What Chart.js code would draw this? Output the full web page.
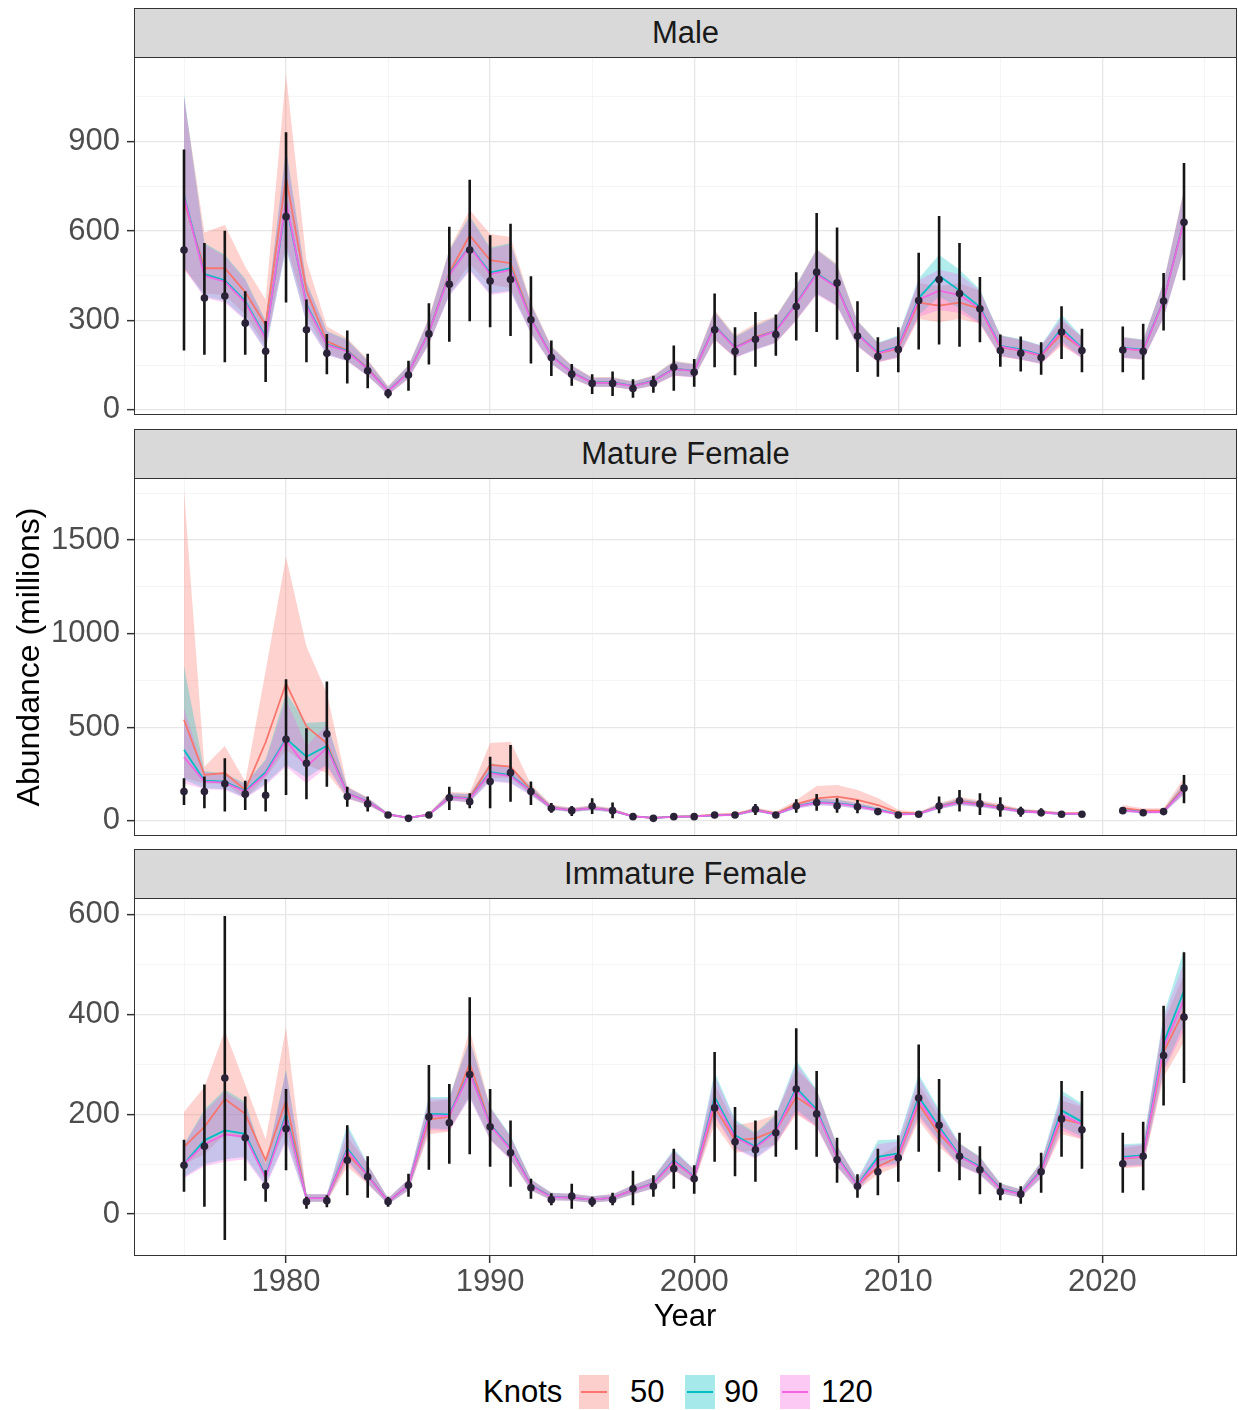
<!DOCTYPE html>
<html><head><meta charset="utf-8">
<script src="https://cdn.jsdelivr.net/npm/chart.js@4.4.1/dist/chart.umd.min.js"></script>
<style>
body{margin:0;width:1238px;height:1410px;background:#fff;position:relative;overflow:hidden;font-family:"Liberation Sans",Arial,sans-serif;}
.strip{position:absolute;left:134px;width:1103px;background:#d9d9d9;border:1.5px solid #333;box-sizing:border-box;display:flex;align-items:center;justify-content:center;font-size:31px;color:#1a1a1a;z-index:3;}
.frame{position:absolute;left:134px;width:1103px;border:1.5px solid #333;box-sizing:border-box;pointer-events:none;z-index:4;}
canvas{position:absolute;left:0;z-index:2;}
.txt{position:absolute;white-space:nowrap;color:#000;z-index:5;}
.key{position:absolute;width:30px;height:34px;top:1375px;z-index:5;}
.key i{position:absolute;left:2px;right:2px;top:16px;height:2px;display:block;}
</style></head>
<body>
<div class="strip" style="top:8px;height:50px;">Male</div>
<div class="frame" style="top:57px;height:358px;"></div>
<div class="strip" style="top:429px;height:50px;">Mature Female</div>
<div class="frame" style="top:478px;height:358px;"></div>
<div class="strip" style="top:849px;height:50px;">Immature Female</div>
<div class="frame" style="top:898px;height:358px;"></div>
<canvas id="c1"></canvas><canvas id="c2"></canvas><canvas id="c3"></canvas>
<div class="txt" style="left:-172px;top:637px;width:400px;height:40px;line-height:40px;text-align:center;font-size:32px;transform:rotate(-90deg);">Abundance (millions)</div>
<div class="txt" style="left:485px;top:1298px;width:400px;height:36px;line-height:36px;text-align:center;font-size:31px;">Year</div>
<div class="txt" style="left:483px;top:1373px;font-size:31px;line-height:38px;">Knots</div>
<div class="key" style="left:579px;background:rgba(248,118,109,0.35);"><i style="background:#F8766D"></i></div>
<div class="txt" style="left:630px;top:1373px;font-size:31px;line-height:38px;">50</div>
<div class="key" style="left:685px;background:rgba(0,191,196,0.35);"><i style="background:#00BFC4"></i></div>
<div class="txt" style="left:724px;top:1373px;font-size:31px;line-height:38px;">90</div>
<div class="key" style="left:780px;background:rgba(245,100,227,0.35);"><i style="background:#F564E3"></i></div>
<div class="txt" style="left:821px;top:1373px;font-size:31px;line-height:38px;">120</div>
<script>
const years = [1975,1976,1977,1978,1979,1980,1981,1982,1983,1984,1985,1986,1987,1988,1989,1990,1991,1992,1993,1994,1995,1996,1997,1998,1999,2000,2001,2002,2003,2004,2005,2006,2007,2008,2009,2010,2011,2012,2013,2014,2015,2016,2017,2018,2019,2020,2021,2022,2023,2024];
const xTicks = [1975,1980,1985,1990,1995,2000,2005,2010,2015,2020,2025];
const xLabels = [1980,1990,2000,2010,2020];

// Male
const maleObs = [536,375,382,291,197,648,269,190,179,131, 56,117,255,421,536,432,437,302,176,120, 89,89,72,89,143,126,269,197,237,253, 347,462,426,248,179,203,367,437,390,339, 199,190,176,261,199,null,201,197,365,629];
const maleLo  = [199,185,160,185,94,360,160,120,89,73, 39,64,152,229,297,277,248,156,114,81, 53,47,41,58,64,78,143,116,145,182, 233,261,235,127,111,126,203,219,212,227, 145,129,118,171,126,null,126,101,266,435];
const maleHi  = [873,560,601,398,298,931,370,255,266,188, 70,165,358,614,772,586,624,448,233,154, 120,129,103,115,216,171,390,277,328,320, 462,660,612,364,244,277,527,650,560,446, 253,246,227,348,272,null,280,289,459,828];
const maleFit50 = [700,475,475,395,285,780,400,230,200,140, 64,126,261,460,585,502,492,307,182,126, 92,92,81,98,138,131,283,210,244,266, 357,458,412,255,189,206,360,350,360,340, 210,199,182,255,206,null,206,199,367,637];
const maleLo50  = [470,390,385,320,215,560,320,190,165,115, 50,105,220,390,490,420,410,260,155,105, 78,78,68,82,115,110,235,175,205,225, 300,390,350,215,160,175,305,295,305,290, 178,168,155,215,175,null,175,168,310,540];
const maleHi50  = [1050,595,620,480,370,1127,500,280,240,170, 80,150,310,540,670,590,580,360,215,150, 110,110,96,116,165,155,335,250,290,315, 420,540,490,300,225,245,425,415,425,400, 250,235,215,300,245,null,245,235,430,740];
const maleFit90 = [720,455,435,365,245,690,355,220,198,138, 64,126,261,455,550,460,475,305,182,126, 92,92,81,98,138,131,283,210,240,266, 357,458,412,255,192,212,375,450,400,345, 215,203,185,273,208,null,208,202,367,637];
const maleLo90  = [480,380,365,305,200,540,295,185,165,115, 52,105,222,385,470,390,400,258,155,106, 78,78,68,82,116,110,238,177,202,226, 302,390,350,215,162,178,318,380,340,292, 182,170,156,230,175,null,176,170,310,540];
const maleHi90  = [1060,560,520,440,300,880,430,265,235,165, 78,150,305,535,650,545,560,355,212,148, 108,108,95,114,162,153,330,245,282,312, 418,538,485,298,225,250,440,520,470,405, 250,238,217,320,245,null,244,236,428,735];
const maleFit120 = [715,450,430,360,240,700,350,218,196,137, 63,125,260,452,548,455,470,303,180,125, 91,91,80,97,137,130,280,208,240,264, 355,455,410,253,190,210,370,400,385,340, 213,200,183,265,205,null,206,200,365,635];
const maleLo120  = [475,375,360,300,198,545,290,183,163,114, 51,104,220,382,465,385,395,255,153,105, 77,77,67,81,115,109,235,175,200,224, 300,385,347,213,160,176,312,335,325,288, 180,168,154,222,172,null,174,168,308,538];
const maleHi120  = [1050,555,515,435,295,870,425,262,232,163, 77,148,303,532,645,540,555,352,210,147, 107,107,94,113,160,152,328,243,280,310, 415,535,482,296,222,247,435,470,455,400, 248,235,215,310,242,null,242,234,425,732];

// Mature Female
const mfObs = [157,157,198,143,137,436,308,464,130,91, 32,14,32,124,103,210,258,157,68,55, 80,55,23,14,23,23,32,32,62,32, 80,98,80,76,50,32,36,80,108,91, 73,50,44,36,36,null,55,44,50,175];
const mfLo  = [85,68,50,59,50,139,116,183,76,50, 22,8,22,59,68,68,103,85,44,27, 37,14,14,8,14,14,22,22,32,22, 44,55,44,41,35,22,25,41,50,32, 23,23,25,25,25,null,38,30,35,94];
const mfHi  = [228,237,335,215,222,757,495,744,183,130, 44,22,44,183,148,343,406,210,96,80, 121,98,34,22,34,34,44,44,91,44, 116,144,121,112,68,44,50,130,165,148, 126,76,68,50,50,null,75,60,68,246];
const mfFit50 = [540,246,256,165,420,735,504,415,149,103, 35,16,34,130,123,299,290,165,72,58, 70,57,25,16,23,25,32,36,60,40, 90,121,130,112,85,44,40,78,105,92, 75,55,48,40,40,null,68,55,55,180];
const mfLo50  = [230,200,200,120,230,380,300,256,120,85, 28,12,28,110,100,230,230,140,60,48, 58,48,20,13,19,20,27,30,50,32, 75,90,95,80,60,34,33,66,88,78, 62,46,40,34,34,null,56,46,46,145];
const mfHi50  = [1767,290,400,210,800,1411,931,683,185,125, 42,20,42,155,150,416,423,195,88,70, 85,68,30,20,28,30,38,43,72,50, 110,187,192,165,123,60,48,95,128,110, 90,65,57,48,48,null,85,68,68,230];
const mfFit90 = [380,215,210,160,260,440,343,400,149,103, 35,16,34,128,120,260,245,160,70,57, 68,55,24,16,22,24,30,32,58,36, 78,100,95,80,60,36,38,76,100,88, 70,52,46,38,38,null,58,48,50,170];
const mfLo90  = [220,175,170,125,200,300,230,300,122,86, 29,13,28,110,100,215,205,138,60,48, 57,46,20,13,18,20,25,27,49,30, 66,85,80,67,50,30,32,64,85,74, 59,44,39,32,32,null,49,40,42,142];
const mfHi90  = [824,265,255,200,330,683,523,530,180,123, 42,19,40,148,143,310,290,185,82,68, 80,65,29,19,26,29,36,38,69,43, 93,120,115,96,72,43,45,90,118,104, 83,62,55,45,45,null,69,57,60,205];
const mfFit120 = [340,210,205,155,250,430,290,390,147,102, 35,16,34,127,118,255,240,158,70,57, 68,55,24,16,22,24,30,32,58,36, 77,98,92,78,58,35,38,75,99,87, 69,51,45,38,38,null,57,47,49,168];
const mfLo120  = [200,170,165,120,190,290,200,290,120,85, 29,13,28,108,98,210,200,136,60,48, 57,46,20,13,18,20,25,27,49,30, 65,83,78,65,48,29,32,63,84,73, 58,43,38,32,32,null,48,39,41,140];
const mfHi120  = [600,260,250,195,320,650,400,515,178,122, 42,19,40,147,141,305,285,183,82,68, 80,65,29,19,26,29,36,38,69,43, 92,118,112,94,70,42,45,89,117,103, 82,61,54,45,45,null,68,56,59,202];

// Immature Female
const imObs = [98,136,273,153,57,171,25,27,108,75, 25,58,195,183,280,175,123,53,29,36, 25,29,51,56,91,71,213,145,129,163, 251,201,109,56,85,113,233,178,116,89, 45,40,85,191,169,null,101,116,318,395];
const imLo  = [45,15,-52,67,25,88,11,14,38,33, 15,35,89,101,120,95,55,31,18,11, 15,18,18,35,51,41,105,76,65,115, 129,115,63,33,38,65,125,85,68,40, 28,21,43,115,91,null,43,48,218,263];
const imHi  = [149,260,598,236,88,251,35,38,178,116, 35,81,299,261,435,251,188,71,42,61, 35,43,87,78,131,98,325,215,188,208, 373,287,153,80,131,158,340,271,163,136, 63,56,123,267,247,null,163,185,418,525];
const imFit50 = [135,175,231,201,108,228,32,32,121,78, 25,58,190,195,302,180,132,58,35,33, 29,33,48,62,105,75,215,148,152,168, 235,208,115,58,95,115,221,161,118,95, 51,41,88,191,181,null,111,115,325,408];
const imLo50  = [100,120,160,150,80,170,25,25,95,60, 20,48,160,165,240,150,110,48,28,27, 23,27,40,52,88,63,180,123,128,140, 200,175,95,48,80,96,188,135,98,80, 42,34,73,160,150,null,92,95,275,345];
const imHi50  = [205,255,368,260,150,375,40,40,155,100, 32,70,225,230,370,215,155,70,43,41, 36,40,58,74,125,90,260,178,185,200, 290,250,138,70,115,138,260,195,142,115, 62,50,105,228,215,null,132,138,385,480];
const imFit90 = [101,148,168,161,75,201,32,32,132,78, 25,58,201,200,285,180,132,58,35,33, 29,33,48,62,108,75,235,158,135,168, 253,210,115,58,115,122,235,175,118,95, 51,41,88,208,185,null,115,118,343,448];
const imLo90  = [75,100,110,115,58,150,25,25,108,62, 20,48,172,170,235,150,110,48,28,27, 23,27,40,52,90,63,200,133,113,142, 210,177,96,48,97,102,200,147,98,80, 42,34,73,175,155,null,97,99,290,380];
const imHi90  = [140,210,250,225,100,290,40,40,180,100, 32,70,235,235,350,215,158,70,43,41, 36,40,58,74,130,90,285,190,163,200, 308,250,138,70,148,150,281,210,142,115, 62,50,105,248,222,null,140,142,400,530];
const imFit120 = [100,140,160,155,72,195,32,32,128,77, 25,58,198,197,283,178,130,57,34,33, 29,33,48,61,106,74,228,154,133,165, 248,206,113,57,108,118,228,170,116,93, 50,40,86,200,180,null,112,116,335,430];
const imLo120  = [72,96,105,110,55,145,25,25,104,61, 20,47,168,167,232,148,108,47,28,27, 23,27,40,51,88,62,195,130,111,139, 205,173,94,47,92,99,195,143,96,78, 41,33,71,168,150,null,95,97,285,368];
const imHi120  = [138,205,245,220,98,285,40,40,172,99, 32,70,232,232,347,213,155,69,42,41, 36,40,58,73,128,89,278,186,160,197, 302,246,136,69,140,146,274,205,140,113, 61,49,103,240,218,null,137,140,395,505];

const maleYTicks = [0,150,300,450,600,750,900,1050], maleYMajor = [0,300,600,900];
const mfYTicks = [0,250,500,750,1000,1250,1500,1750], mfYMajor = [0,500,1000,1500];
const imYTicks = [0,100,200,300,400,500,600], imYMajor = [0,200,400,600];

const COLORS = {k50:'#F8766D', k90:'#00BFC4', k120:'#F564E3'};
const FILLS = {k50:'rgba(248,118,109,0.33)', k90:'rgba(0,191,196,0.30)', k120:'rgba(245,100,227,0.30)'};

Chart.defaults.font.family = "'Liberation Sans', Arial, sans-serif";
Chart.defaults.font.size = 31;
Chart.defaults.color = '#4d4d4d';

const pts = arr => years.map((y,i) => ({x:y, y:arr[i]}));
function errData(lo, hi){
  const d = [];
  years.forEach((y,i) => { if (lo[i] !== null) { d.push({x:y,y:lo[i]},{x:y,y:hi[i]},{x:y,y:null}); } });
  return d;
}
function ribbon(lo, hi, key, ord){
  return [
    {data:pts(hi), borderWidth:0, borderColor:'rgba(0,0,0,0)', pointRadius:0, fill:false, spanGaps:false, order:ord},
    {data:pts(lo), borderWidth:0, borderColor:'rgba(0,0,0,0)', pointRadius:0, fill:'-1', backgroundColor:FILLS[key], spanGaps:false, order:ord}
  ];
}
function fitLine(arr, key, ord){
  return {data:pts(arr), borderColor:COLORS[key], borderWidth:1.8, pointRadius:0, fill:false, spanGaps:false, tension:0, order:ord};
}

function makePanel(id, top, areaH, showX, yMin, yMax, yTicks, yMajor, d){
  const cv = document.getElementById(id);
  const padTop = 34, padBot = showX ? 0 : 34, xH = showX ? 50 : 0;
  cv.width = 1238; cv.height = padTop + areaH + padBot + xH;
  cv.style.top = (top - padTop) + 'px';
  const datasets = [
    ...ribbon(d.lo50, d.hi50, 'k50', 12),
    ...ribbon(d.lo90, d.hi90, 'k90', 11),
    ...ribbon(d.lo120, d.hi120, 'k120', 10),
    fitLine(d.fit50, 'k50', 6),
    fitLine(d.fit90, 'k90', 5),
    fitLine(d.fit120, 'k120', 4),
    {data:errData(d.obsLo, d.obsHi), borderColor:'#151515', borderWidth:2.6, pointRadius:0, fill:false, spanGaps:false, order:1},
    {data:pts(d.obs), showLine:false, pointRadius:3.8, pointBackgroundColor:'#2a2236', pointBorderWidth:0, order:0}
  ];
  new Chart(cv, {
    type:'line',
    data:{datasets},
    options:{
      responsive:false, animation:false, devicePixelRatio:1,
      layout:{padding:{top:padTop, bottom:padBot, left:0, right:1}},
      plugins:{legend:{display:false}, tooltip:{enabled:false}},
      events:[],
      scales:{
        x:{type:'linear', min:1972.55, max:2026.45,
           afterBuildTicks:s => { s.ticks = xTicks.map(v => ({value:v})); },
           afterFit:s => { s.height = xH; },
           border:{display:false},
           grid:{color:c => (c.tick && c.tick.value % 10 === 0) ? '#e6e6e6' : '#f1f1f1',
                 lineWidth:c => (c.tick && c.tick.value % 10 === 0) ? 1.3 : 0.7,
                 drawTicks:showX, tickLength:7, tickWidth:1.5,
                 tickColor:c => (c.tick && c.tick.value % 10 === 0) ? '#333' : 'rgba(0,0,0,0)'},
           ticks:{display:showX, autoSkip:false, maxRotation:0, padding:1,
                  callback:v => xLabels.includes(v) ? String(v) : ''}
        },
        y:{type:'linear', min:yMin, max:yMax,
           afterBuildTicks:s => { s.ticks = yTicks.map(v => ({value:v})); },
           afterFit:s => { s.width = 134; },
           border:{display:false},
           grid:{color:c => (c.tick && yMajor.includes(c.tick.value)) ? '#e6e6e6' : '#f1f1f1',
                 lineWidth:c => (c.tick && yMajor.includes(c.tick.value)) ? 1.3 : 0.7,
                 drawTicks:true, tickLength:7, tickWidth:1.5,
                 tickColor:c => (c.tick && yMajor.includes(c.tick.value)) ? '#333' : 'rgba(0,0,0,0)'},
           ticks:{autoSkip:false, padding:7, callback:v => yMajor.includes(v) ? String(v) : ''}
        }
      }
    }
  });
}

makePanel('c1', 57.5, 357, false, -17, 1180, maleYTicks, maleYMajor, {
  obs:maleObs, obsLo:maleLo, obsHi:maleHi,
  fit50:maleFit50, lo50:maleLo50, hi50:maleHi50,
  fit90:maleFit90, lo90:maleLo90, hi90:maleHi90,
  fit120:maleFit120, lo120:maleLo120, hi120:maleHi120});
makePanel('c2', 478, 357, false, -75, 1831, mfYTicks, mfYMajor, {
  obs:mfObs, obsLo:mfLo, obsHi:mfHi,
  fit50:mfFit50, lo50:mfLo50, hi50:mfHi50,
  fit90:mfFit90, lo90:mfLo90, hi90:mfHi90,
  fit120:mfFit120, lo120:mfLo120, hi120:mfHi120});
makePanel('c3', 898, 358, true, -84, 634, imYTicks, imYMajor, {
  obs:imObs, obsLo:imLo, obsHi:imHi,
  fit50:imFit50, lo50:imLo50, hi50:imHi50,
  fit90:imFit90, lo90:imLo90, hi90:imHi90,
  fit120:imFit120, lo120:imLo120, hi120:imHi120});
</script>
</body></html>
